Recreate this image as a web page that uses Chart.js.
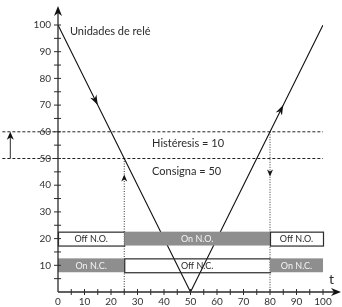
<!DOCTYPE html>
<html>
<head>
<meta charset="utf-8">
<script src="https://cdn.jsdelivr.net/npm/chart.js@4.4.0/dist/chart.umd.min.js"></script>
<style>
  html, body { margin: 0; padding: 0; background: #fff; }
  #wrap { width: 342px; height: 307px; position: relative; }
</style>
</head>
<body>
<div id="wrap"><canvas id="relay"></canvas></div>
<script>
// curva de unidades de relé
const relayX = [0, 50, 100];
const relayY = [100, 0, 100];

// niveles: consigna e histéresis
const setpoint = 50;
const hysteresis = 10;
const levelX = [-21, 100];

// instantes de conmutación
const switchOn = 25;
const switchOff = 80;

// estados de los contactos
const segStart = [0, 25, 80];
const segEnd = [25, 80, 100];
const noLabels = ['Off N.O.', 'On N.O.', 'Off N.O.'];
const noActive = [false, true, false];
const ncLabels = ['On N.C.', 'Off N.C.', 'On N.C.'];
const ncActive = [true, false, true];
const noLevel = 20;
const ncLevel = 10;

const xTicks = [0, 10, 20, 30, 40, 50, 60, 70, 80, 90, 100];
const yTicks = [10, 20, 30, 40, 50, 60, 70, 80, 90, 100];

const FONT = 'Lato, "Open Sans", sans-serif';
const INK = '#2b2b2b';
const GREY = '#8e8e8e';

const pts = (xs, ys) => xs.map((x, i) => ({ x, y: ys[i] }));

function arrow(ctx, x, y, angle, len, half) {
  ctx.save();
  ctx.translate(x, y);
  ctx.rotate(angle);
  ctx.beginPath();
  ctx.moveTo(0, 0);
  ctx.lineTo(-len, -half);
  ctx.lineTo(-len * 0.7, 0);
  ctx.lineTo(-len, half);
  ctx.closePath();
  ctx.fill();
  ctx.restore();
}

const decorPlugin = {
  id: 'decor',
  afterDatasetsDraw(chart) {
    const { ctx, scales: { x, y } } = chart;
    ctx.save();

    // cajas de estado (gris tapa la curva, blanca solo borde)
    const drawRow = (labels, active, level) => {
      labels.forEach((lab, i) => {
        const x0 = x.getPixelForValue(segStart[i]);
        const x1 = x.getPixelForValue(segEnd[i]);
        const y0 = y.getPixelForValue(level + 2.6);
        const y1 = y.getPixelForValue(level - 2.6);
        if (active[i]) {
          ctx.fillStyle = GREY;
          ctx.fillRect(x0, y0, x1 - x0, y1 - y0);
        } else {
          ctx.strokeStyle = INK;
          ctx.lineWidth = 1.2;
          ctx.strokeRect(x0 + 0.5, y0 + 0.5, x1 - x0, y1 - y0);
        }
        ctx.fillStyle = active[i] ? '#f4f4f4' : INK;
        ctx.font = '9px ' + FONT;
        ctx.textAlign = 'center';
        ctx.textBaseline = 'middle';
        ctx.fillText(lab, (x0 + x1) / 2, (y0 + y1) / 2 + 0.5);
      });
    };
    drawRow(noLabels, noActive, noLevel);
    drawRow(ncLabels, ncActive, ncLevel);

    // ejes con flechas
    const ax = x.getPixelForValue(0);
    const ay = y.getPixelForValue(0);
    const right = x.getPixelForValue(100);
    const top = y.getPixelForValue(100);
    ctx.strokeStyle = INK;
    ctx.fillStyle = '#111';
    ctx.lineWidth = 1.3;
    ctx.beginPath();
    ctx.moveTo(ax, ay);
    ctx.lineTo(ax, 12);
    ctx.moveTo(ax, ay);
    ctx.lineTo(336, ay);
    ctx.stroke();
    arrow(ctx, ax, 6, -Math.PI / 2, 10, 4);
    arrow(ctx, 341, ay, 0, 10, 4);

    ctx.lineWidth = 1;
    ctx.beginPath();
    for (let v = 5; v <= 100; v += 5) {
      const px = x.getPixelForValue(v);
      ctx.moveTo(px, ay - 3);
      ctx.lineTo(px, ay + 3);
      const py = y.getPixelForValue(v);
      ctx.moveTo(ax - 4, py);
      ctx.lineTo(ax + 3, py);
    }
    ctx.stroke();

    // flechas sobre la curva
    const dx = x.getPixelForValue(50) - x.getPixelForValue(0);
    const dy = y.getPixelForValue(0) - y.getPixelForValue(100);
    const ang = Math.atan2(dy, dx);
    arrow(ctx, x.getPixelForValue(15), y.getPixelForValue(70), ang, 10, 3.5);
    arrow(ctx, x.getPixelForValue(85), y.getPixelForValue(70), -ang, 10, 3.5);

    // flechas de conmutación
    arrow(ctx, x.getPixelForValue(switchOn), y.getPixelForValue(setpoint - 6), -Math.PI / 2, 7, 3);
    arrow(ctx, x.getPixelForValue(switchOff), y.getPixelForValue(setpoint - 6.7), Math.PI / 2, 7, 3);

    // flecha de histéresis a la izquierda
    const hx = x.getPixelForValue(-18);
    ctx.beginPath();
    ctx.moveTo(hx, y.getPixelForValue(setpoint));
    ctx.lineTo(hx, y.getPixelForValue(setpoint + hysteresis) + 4);
    ctx.stroke();
    arrow(ctx, hx, y.getPixelForValue(setpoint + hysteresis), -Math.PI / 2, 8, 3.5);

    // textos
    ctx.fillStyle = INK;
    ctx.textAlign = 'left';
    ctx.textBaseline = 'middle';
    ctx.font = '11px ' + FONT;
    ctx.fillText('Unidades de relé', x.getPixelForValue(4.5), y.getPixelForValue(97.5));
    ctx.fillText('Histéresis = ' + hysteresis, x.getPixelForValue(35.5), y.getPixelForValue(55.5));
    ctx.fillText('Consigna = ' + setpoint, x.getPixelForValue(35.5), y.getPixelForValue(45.3));
    ctx.font = '14px ' + FONT;
    ctx.fillText('t', 329, ay - 13);

    ctx.restore();
  }
};

new Chart(document.getElementById('relay'), {
  type: 'line',
  data: {
    datasets: [
      {
        data: pts(relayX, relayY),
        borderColor: '#111',
        borderWidth: 1.1
      },
      {
        data: pts(levelX, [setpoint + hysteresis, setpoint + hysteresis]),
        borderColor: '#222',
        borderWidth: 1,
        borderDash: [3, 2],
        clip: false
      },
      {
        data: pts(levelX, [setpoint, setpoint]),
        borderColor: '#222',
        borderWidth: 1,
        borderDash: [3, 2],
        clip: false
      },
      {
        data: pts([switchOn, switchOn], [setpoint, 0]),
        borderColor: '#333',
        borderWidth: 1,
        borderDash: [1, 1.5]
      },
      {
        data: pts([switchOff, switchOff], [setpoint + hysteresis, 0]),
        borderColor: '#333',
        borderWidth: 1,
        borderDash: [1, 1.5]
      }
    ]
  },
  options: {
    responsive: true,
    maintainAspectRatio: false,
    animation: false,
    layout: { padding: { top: 25, right: 19, left: 0, bottom: 0 } },
    elements: { point: { radius: 0 }, line: { tension: 0 } },
    plugins: { legend: { display: false }, tooltip: { enabled: false } },
    scales: {
      x: {
        type: 'linear',
        min: 0,
        max: 100,
        afterFit: s => { s.height = 15; },
        afterBuildTicks: s => { s.ticks = xTicks.map(v => ({ value: v })); },
        grid: { display: false, drawTicks: false },
        border: { display: false },
        ticks: { padding: 4, color: '#333', font: { family: FONT, size: 10 }, maxRotation: 0 }
      },
      y: {
        min: 0,
        max: 100,
        afterFit: s => { s.width = 58; },
        afterBuildTicks: s => { s.ticks = yTicks.map(v => ({ value: v })); },
        grid: { display: false, drawTicks: false },
        border: { display: false },
        ticks: { padding: 7, color: '#333', font: { family: FONT, size: 10 } }
      }
    }
  },
  plugins: [decorPlugin]
});
</script>
</body>
</html>
